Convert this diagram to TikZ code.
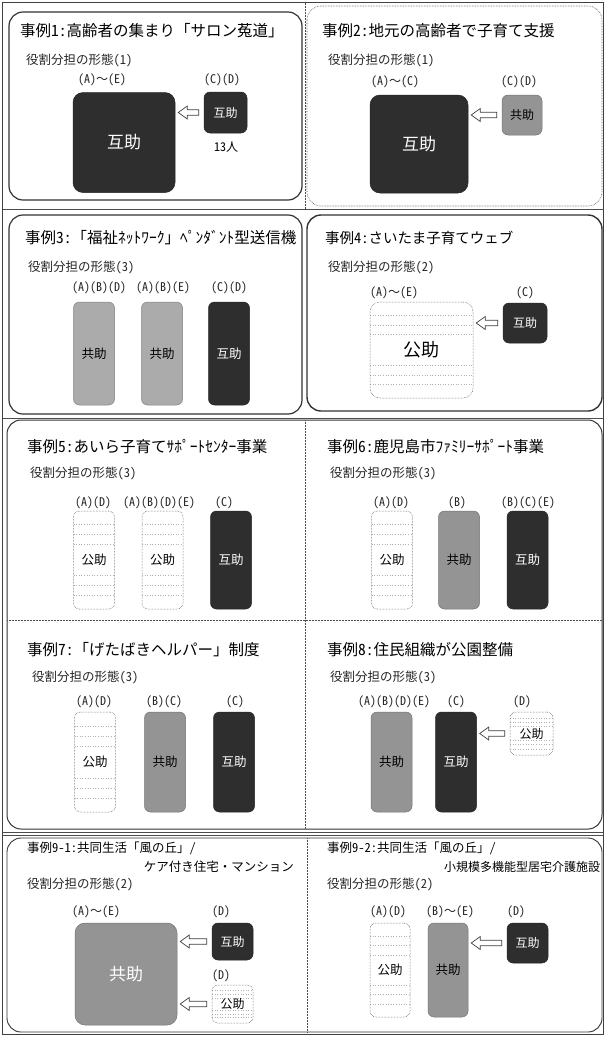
\documentclass[tikz,border=0pt]{standalone}
\usepackage{fontspec}
\setmainfont{Noto Sans CJK JP}
\newfontfamily\hw{Noto Sans CJK JP}[RawFeature=+hwid]
\usetikzlibrary{arrows.meta,calc}
\newcommand{\wv}{{\fontspec{Noto Sans CJK JP}〜}}
\newcommand{\harr}[2]{\draw[harrowshape] let \p1=(#1.west), \p2=(#2.east) in
  (\x2+3pt,\y1) -- (\x2+12pt,\y1+6.5pt) -- (\x2+12pt,\y1+2.8pt) -- (\x1-5pt,\y1+2.8pt) --
  (\x1-5pt,\y1-2.8pt) -- (\x2+12pt,\y1-2.8pt) -- (\x2+12pt,\y1-6.5pt) -- cycle;}
\begin{document}
\begin{tikzpicture}[x=1pt,y=-1pt,
  ttl/.style={anchor=west,inner sep=0pt,font=\fontsize{15.5}{16}\selectfont},
  ttls/.style={anchor=west,inner sep=0pt,font=\fontsize{12.5}{13}\selectfont},
  sub/.style={anchor=west,inner sep=0pt,font=\fontsize{12.5}{13}\selectfont,text=black!85},
  lbl/.style={inner sep=0pt,font=\hw\fontsize{12}{12}\selectfont,text=black!85},
  box/.style={rounded corners=6pt,inner sep=0pt,line width=0.5pt},
  dk/.style={box,fill=black!82,draw=black!85,text=white},
  md/.style={box,fill=black!42,draw=black!55,text=black},
  lt/.style={box,fill=black!33,draw=black!50,text=black},
  pb/.style={box,fill=white,draw=black!75,densely dotted,text=black,
    path picture={\foreach \k in {0.14,0.24,0.34,0.66,0.76,0.86}{
      \draw[black!30,solid,dash pattern=on 0.6pt off 2pt,line width=0.5pt]
        ($(path picture bounding box.north west)!\k!(path picture bounding box.south west)$) --
        ($(path picture bounding box.north east)!\k!(path picture bounding box.south east)$);}}},
  big/.style={minimum width=102pt,minimum height=100pt,rounded corners=10pt,font=\fontsize{17}{17}\selectfont},
  tall/.style={minimum width=41pt,minimum height=98pt,font=\fontsize{12.5}{13}\selectfont},
  sml/.style={minimum width=42pt,minimum height=41pt,font=\fontsize{12}{12}\selectfont},
  harrowshape/.style={draw=black!75,line width=0.7pt,fill=white,line join=miter},
  thk/.style={draw=black!80,line width=1.2pt,rounded corners=14pt},
  thn/.style={draw=black!70,line width=0.6pt,rounded corners=14pt},
  grid/.style={draw=black!70,line width=0.5pt,densely dotted}
]
\useasboundingbox (0,0) rectangle (605,1037);
\fill[white] (0,0) rectangle (605,1037);
% table lines
\draw[black!75,line width=0.8pt] (2.5,2.5) rectangle (603.5,1034.5);
\draw[black!70,line width=0.6pt] (2.5,209) -- (603.5,209);
\draw[grid] (305,2.5) -- (305,209);
\draw[black!70,line width=0.6pt] (2.5,418) -- (603.5,418);
\draw[black!70,line width=0.6pt] (2.5,832) -- (603.5,832);
\draw[black!70,line width=0.6pt] (2.5,835) -- (603.5,835);
% frames
\draw[thk] (9,12) rectangle (302,200);
\draw[thn,densely dotted] (307,6) rectangle (602,206);
\draw[thk] (9,215) rectangle (302,414);
\draw[thk,line width=1.4pt] (307,215) rectangle (602,411);
\draw[thk,line width=1pt] (7,420) rectangle (602,829);
\draw[grid] (305,420) -- (305,829);
\draw[grid] (7,620) -- (602,620);
\draw[thk,line width=0.9pt] (7,838) rectangle (602,1032);
\draw[grid] (307,838) -- (307,1032);

% ---- Case 1
\node[ttl] (t1) at (20,31) {事例{\hw 1:}高齢者の集まり「サロン菟道」};
\node[sub] (s1) at (26,60) {役割分担の形態{\hw(1)}};
\node[dk,big] (b1) at (124,142.5) {互助};
\node[lbl] (l1a) at (102,80) {(A)\wv(E)};
\node[dk,sml,minimum width=43pt] (c1) at (225.5,112.5) {互助};
\node[lbl] (l1b) at (222,80) {(C)(D)};
\node[inner sep=0pt,font=\fontsize{12}{12}\selectfont] (n1) at (226,147) {{\hw 13}人};
\harr{c1}{b1}

% ---- Case 2
\node[ttl] (t2) at (322,31) {事例{\hw 2:}地元の高齢者で子育て支援};
\node[sub] (s2) at (328,60) {役割分担の形態{\hw(1)}};
\node[dk,big,minimum width=98pt,minimum height=98pt] (b2) at (419,144) {互助};
\node[lbl] (l2a) at (395,82) {(A)\wv(C)};
\node[md,sml,minimum width=40pt,minimum height=40pt] (c2) at (522,115) {共助};
\node[lbl] (l2b) at (519,82) {(C)(D)};
\harr{c2}{b2}

% ---- Case 3
\node[ttl] (t3) at (25,238) {事例{\hw 3:}「福祉ﾈｯﾄﾜｰｸ」ﾍﾟﾝﾀﾞﾝﾄ型送信機};
\node[sub] (s3) at (28,267) {役割分担の形態{\hw(3)}};
\node[lt,tall,minimum height=103pt] (b3a) at (94,353.5) {共助};
\node[lt,tall,minimum height=103pt] (b3b) at (162,353.5) {共助};
\node[dk,tall,minimum height=103pt] (b3c) at (229,353.5) {互助};
\node[lbl] (l3a) at (99,288) {(A)(B)(D)};
\node[lbl] (l3b) at (163,288) {(A)(B)(E)};
\node[lbl] (l3c) at (229,288) {(C)(D)};

% ---- Case 4
\node[ttl,font=\fontsize{14.5}{15}\selectfont] (t4) at (325,238) {事例{\hw 4:}さいたま子育てウェブ};
\node[sub] (s4) at (328,267) {役割分担の形態{\hw(2)}};
\node[pb,big,minimum width=103pt,minimum height=96pt,font=\fontsize{18}{18}\selectfont] (b4) at (421.5,350) {公助};
\node[lbl] (l4a) at (394,293) {(A)\wv(E)};
\node[dk,sml,minimum width=44pt,minimum height=40pt] (c4) at (525,323) {互助};
\node[lbl] (l4b) at (525,293) {(C)};
\harr{c4}{b4}

% ---- Case 5
\node[ttl] (t5) at (27,447) {事例{\hw 5:}あいら子育てｻﾎﾟｰﾄｾﾝﾀｰ事業};
\node[sub] (s5) at (30,473) {役割分担の形態{\hw(3)}};
\node[pb,tall] (b5a) at (94,560) {公助};
\node[pb,tall] (b5b) at (162.5,560) {公助};
\node[dk,tall] (b5c) at (231,560) {互助};
\node[lbl] (l5a) at (93,503) {(A)(D)};
\node[lbl] (l5b) at (159,503) {(A)(B)(D)(E)};
\node[lbl] (l5c) at (224,503) {(C)};

% ---- Case 6
\node[ttl] (t6) at (327,447) {事例{\hw 6:}鹿児島市ﾌｧﾐﾘｰｻﾎﾟｰﾄ事業};
\node[sub] (s6) at (330,473) {役割分担の形態{\hw(3)}};
\node[pb,tall] (b6a) at (392,560) {公助};
\node[md,tall] (b6b) at (459,560) {共助};
\node[dk,tall] (b6c) at (527.5,560) {互助};
\node[lbl] (l6a) at (391,503) {(A)(D)};
\node[lbl] (l6b) at (457,503) {(B)};
\node[lbl] (l6c) at (528,503) {(B)(C)(E)};

% ---- Case 7
\node[ttl] (t7) at (27,650) {事例{\hw 7:}「げたばきヘルパー」制度};
\node[sub] (s7) at (32,677) {役割分担の形態{\hw(3)}};
\node[pb,tall,minimum height=100pt] (b7a) at (95,762) {公助};
\node[md,tall,minimum height=100pt] (b7b) at (165,762) {共助};
\node[dk,tall,minimum height=100pt] (b7c) at (234,762) {互助};
\node[lbl] (l7a) at (94,702) {(A)(D)};
\node[lbl] (l7b) at (164,702) {(B)(C)};
\node[lbl] (l7c) at (235,702) {(C)};

% ---- Case 8
\node[ttl] (t8) at (327,650) {事例{\hw 8:}住民組織が公園整備};
\node[sub] (s8) at (330,677) {役割分担の形態{\hw(3)}};
\node[md,tall,minimum height=100pt] (b8a) at (391.5,762) {共助};
\node[dk,tall,minimum height=100pt] (b8b) at (456,762) {互助};
\node[pb,sml,minimum width=43pt,minimum height=43pt] (c8) at (531.5,733.5) {公助};
\node[lbl] (l8a) at (394,702) {(A)(B)(D)(E)};
\node[lbl] (l8b) at (456,702) {(C)};
\node[lbl] (l8c) at (522,702) {(D)};
\harr{c8}{b8b}

% ---- Case 9-1
\node[ttls] (t9a) at (27,848) {事例{\hw 9-1:}共同生活「風の丘」{\hw/}};
\node[ttls,anchor=east] (t9b) at (294,867) {ケア付き住宅・マンション};
\node[sub] (s9a) at (27,884) {役割分担の形態{\hw(2)}};
\node[md,big,minimum height=102pt,text=white] (b9) at (126,974) {共助};
\node[lbl] (l9a) at (96,912) {(A)\wv(E)};
\node[dk,sml,minimum width=41pt,minimum height=37pt] (c9a) at (232.5,941.5) {互助};
\node[lbl] (l9b) at (221,912) {(D)};
\node[pb,sml,minimum width=41pt,minimum height=38pt] (c9b) at (232.5,1004) {公助};
\node[lbl] (l9c) at (221,976) {(D)};
\harr{c9a}{b9}
\harr{c9b}{b9}

% ---- Case 9-2
\node[ttls] (t9c) at (327,848) {事例{\hw 9-2:}共同生活「風の丘」{\hw/}};
\node[ttls,font=\fontsize{12}{12}\selectfont] (t9d) at (444,867) {小規模多機能型居宅介護施設};
\node[sub] (s9b) at (327,884) {役割分担の形態{\hw(2)}};
\node[pb,tall,minimum width=40pt,minimum height=94pt] (b9a) at (390,970) {公助};
\node[md,tall,minimum width=40pt,minimum height=94pt] (b9b) at (448,970) {共助};
\node[dk,sml,minimum width=41pt,minimum height=40pt] (c9c) at (527.5,943) {互助};
\node[lbl] (l9d) at (388,912) {(A)(D)};
\node[lbl] (l9e) at (450,912) {(B)\wv(E)};
\node[lbl] (l9f) at (516,912) {(D)};
\harr{c9c}{b9b}
\end{tikzpicture}
\end{document}
